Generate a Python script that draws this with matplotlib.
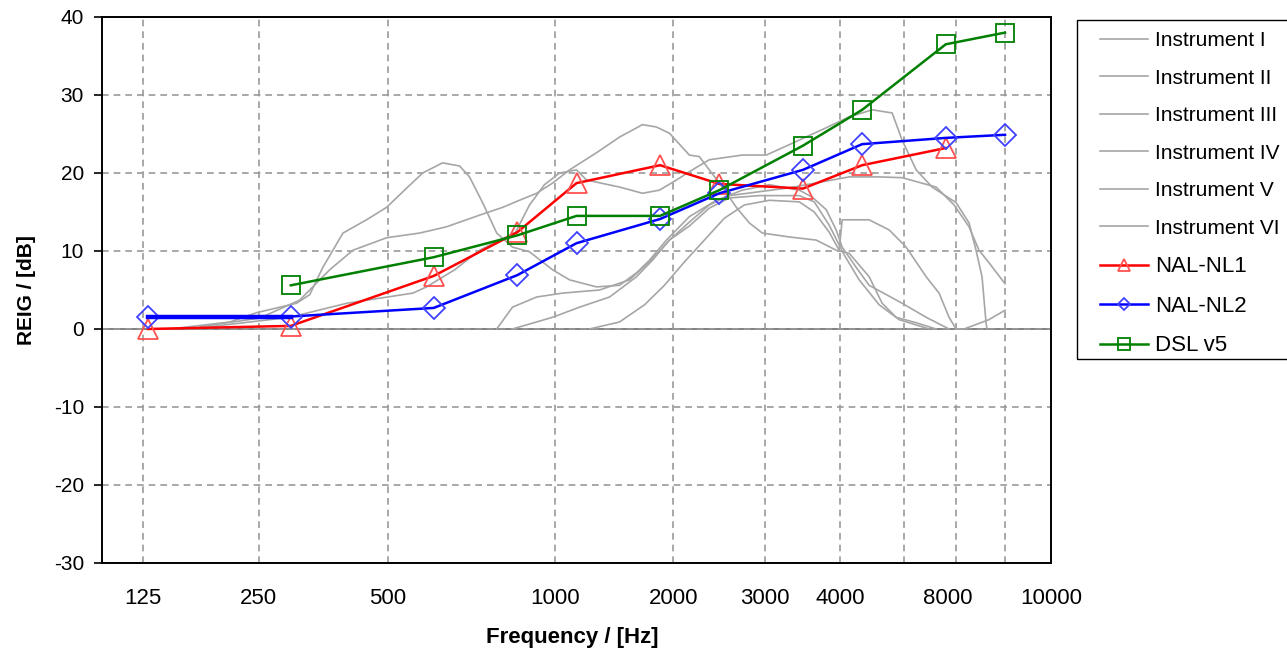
import matplotlib
matplotlib.use("Agg")
import matplotlib.pyplot as plt
from matplotlib.patches import Rectangle
from matplotlib.ticker import FixedLocator, FixedFormatter

plt.rcParams['font.family'] = ['Liberation Sans', 'DejaVu Sans']
plt.rcParams['axes.unicode_minus'] = False

# prescription targets (REIG in dB)
target_freqs = [125, 250, 500, 750, 1000, 1500, 2000, 3000, 4000, 6000, 8000]
nal_nl1 = [0.0, 0.4, 6.8, 12.4, 18.7, 21.0, 18.6, 18.0, 21.0, 23.2]
nal_nl2 = [1.6, 1.6, 2.7, 6.9, 11.0, 14.1, 17.4, 20.4, 23.7, 24.5, 24.9]
dsl_v5 = [5.6, 9.2, 12.0, 14.5, 14.5, 17.8, 23.5, 28.1, 36.5, 38.0]

inst1_f = [139, 186, 212, 257, 274, 292, 322, 361, 398, 434, 474, 522, 567, 595, 634,
           679, 733, 796, 890, 967, 1102, 1232, 1338, 1424, 1547, 1729, 1971, 2236,
           2549, 2948, 3139, 3359, 3526, 3630, 3885, 4138, 4856, 5456, 6098]
inst1_db = [0.0, 0.9, 2.1, 3.3, 4.4, 7.9, 12.3, 14.0, 15.6, 17.8, 20.0, 21.3, 20.9, 19.5,
            16.2, 12.3, 10.5, 9.9, 7.6, 6.3, 5.4, 5.6, 7.2, 8.8, 11.4, 14.4, 16.5, 17.8,
            18.5, 17.8, 16.9, 15.3, 12.7, 10.5, 7.9, 5.6, 3.3, 1.5, 0.0]

inst2_f = [161, 215, 261, 302, 338, 398, 467, 532, 625, 699, 758, 824, 890, 967, 1102,
           1232, 1377, 1473, 1570, 1729, 1815, 1905, 2029, 2172, 2313, 2464, 2809, 3200,
           3526, 3756, 4138, 4407, 4717, 5198, 5725]
inst2_db = [0.3, 1.4, 3.7, 7.6, 10.1, 11.7, 12.3, 13.1, 14.6, 15.6, 16.5, 17.4, 18.7,
            20.4, 22.6, 24.6, 26.2, 25.9, 25.1, 22.3, 22.1, 20.4, 18.2, 15.6, 13.6, 12.3,
            11.8, 11.4, 10.1, 9.7, 6.7, 3.3, 1.5, 0.8, 0.0]

inst3_f = [153, 186, 249, 328, 452, 483, 554, 625, 689, 744, 796, 856, 921, 1000, 1050,
           1232, 1377, 1495, 1624, 1754, 1905, 2236, 2512, 2848, 3359, 3756, 4199, 4626,
           4856, 5198, 5616, 6309, 6719, 6950, 7156, 7296, 7330]
inst3_db = [0.0, 0.6, 1.5, 3.3, 4.6, 5.4, 7.6, 10.1, 11.4, 12.4, 15.9, 18.5, 20.0, 20.4,
            19.1, 18.2, 17.4, 17.8, 19.1, 20.4, 21.7, 22.3, 22.3, 23.8, 25.8, 27.2, 28.1,
            27.7, 24.2, 20.4, 18.2, 16.2, 13.6, 10.1, 6.7, 0.8, 0.0]

inst4_f = [679, 733, 824, 934, 1118, 1293, 1424, 1570, 1729, 1905, 2100, 2428, 2809,
           3247, 3756, 4344, 4856, 5725, 6248, 6719, 7051, 7401, 8000]
inst4_db = [0.0, 2.8, 4.1, 4.6, 5.0, 6.3, 8.6, 11.4, 13.7, 15.9, 17.1, 17.6, 18.1, 18.8,
            19.5, 19.5, 19.4, 18.2, 15.9, 13.1, 10.1, 8.5, 5.8]

inst5_f = [733, 890, 1015, 1174, 1338, 1445, 1570, 1729, 1905, 2100, 2428, 2948, 3170,
           3409, 3666, 3942, 4344, 4786, 5535]
inst5_db = [0.0, 1.5, 2.8, 4.1, 6.7, 8.8, 11.4, 13.2, 15.5, 16.8, 17.1, 17.1, 16.3,
            13.3, 9.5, 6.3, 3.1, 1.2, 0.0]

inst6_f = [1065, 1232, 1391, 1532, 1688, 1860, 2049, 2258, 2549, 2948, 3170, 3409, 3577,
           3630, 4138, 4560, 4951, 5456, 5809, 6098, 6309, 6558, 7401, 8000]
inst6_db = [0.0, 0.9, 3.1, 5.6, 8.6, 11.4, 14.2, 15.9, 16.5, 16.3, 15.0, 12.4, 10.1,
            14.0, 14.0, 12.7, 10.5, 6.7, 4.6, 1.5, 0.0, 0.0, 1.2, 2.4]

instruments = [
    ("Instrument I", inst1_f, inst1_db),
    ("Instrument II", inst2_f, inst2_db),
    ("Instrument III", inst3_f, inst3_db),
    ("Instrument IV", inst4_f, inst4_db),
    ("Instrument V", inst5_f, inst5_db),
    ("Instrument VI", inst6_f, inst6_db),
]

# axis grid / labels as drawn in the original
grid_freqs = [122, 214, 400, 900, 1600, 2500, 3600, 4900, 6300, 8000]
grid_labels = ["125", "250", "500", "1000", "2000", "3000", "4000", "", "", ""]
extra_label_freqs = [6050, 10000]
extra_labels = ["8000", "10000"]
y_ticks = [40, 30, 20, 10, 0, -10, -20, -30]

fig = plt.figure(figsize=(12.87, 6.52), dpi=100)
ax = fig.add_axes([102 / 1287, 1 - 563 / 652, 949 / 1287, 546 / 652])

ax.axhline(0, color="#777777", lw=1.3, zorder=1.5)

for name, f, db in instruments:
    ax.plot(f, db, color="#a6a6a6", lw=1.2, label=name, zorder=2)

ax.plot(target_freqs[:len(nal_nl1)], nal_nl1, color="red", lw=1.8, marker="^", ms=15,
        mfc="none", mec="#ff5050", mew=1.3, label="NAL-NL1", zorder=3)
ax.plot(target_freqs, nal_nl2, color="blue", lw=1.8, marker="D", ms=11,
        mfc="none", mec="#4040ff", mew=1.3, label="NAL-NL2", zorder=4)
# first NAL-NL2 segment is drawn heavier in the original
ax.plot(target_freqs[:2], nal_nl2[:2], color="blue", lw=3.2, zorder=4)
ax.plot(target_freqs[1:], dsl_v5, color="green", lw=1.8, marker="s", ms=13.5,
        mfc="none", mec="green", mew=1.3, label="DSL v5", zorder=5)

ax.set_xscale("log")
ax.set_xlim(100, 10000)
ax.set_ylim(-30, 40)

ax.set_xticks(grid_freqs)
ax.set_xticklabels(grid_labels)
ax.xaxis.set_minor_locator(FixedLocator(extra_label_freqs))
ax.xaxis.set_minor_formatter(FixedFormatter(extra_labels))
ax.tick_params(axis="x", which="both", length=0, pad=18, labelsize=16)
ax.set_yticks(y_ticks)
ax.tick_params(axis="y", length=6, width=1.2, pad=7, labelsize=15)

ax.grid(True, which="major", color="#999999", lw=1.2, linestyle=(0, (4, 3)))
for s in ax.spines.values():
    s.set_linewidth(1.4)

ax.set_xlabel("Frequency / [Hz]", fontsize=16, fontweight="bold")
ax.xaxis.set_label_coords(0.495, -0.117)
ax.set_ylabel("REIG / [dB]", fontsize=15, fontweight="bold")
ax.yaxis.set_label_coords(-0.07, 0.5)

leg = fig.legend(loc="upper left", bbox_to_anchor=(1100 / 1287, 1 - 31 / 652),
                 fontsize=15, frameon=False, markerscale=0.6, handlelength=2.3,
                 handletextpad=0.34, labelspacing=0.89, borderpad=0, borderaxespad=0)
for t in leg.get_texts()[6:]:
    t.set_fontsize(16)
# legend box runs off the right edge of the figure
fig.patches.append(Rectangle((1077 / 1287, 1 - 359 / 652), 240 / 1287, 339 / 652,
                             transform=fig.transFigure, fill=False, ec="black", lw=1.0))

fig.savefig("out.png", dpi=100)
